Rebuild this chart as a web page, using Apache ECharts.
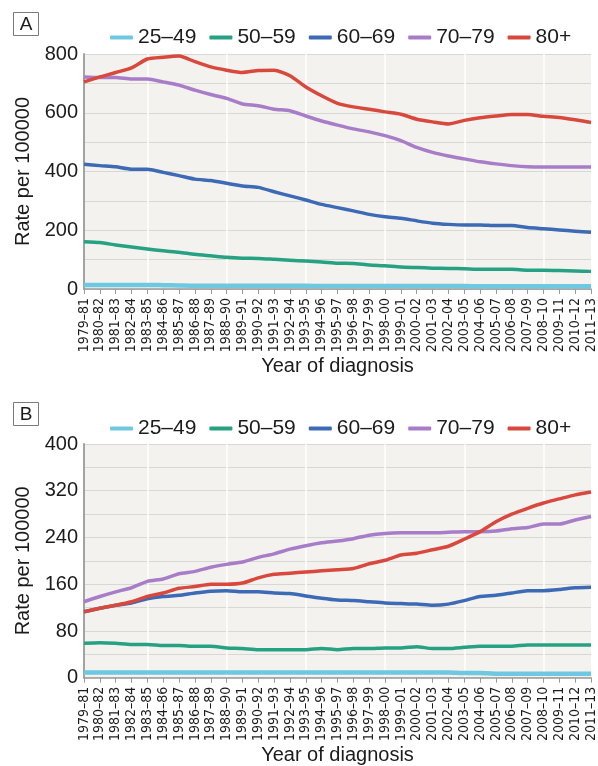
<!DOCTYPE html>
<html>
<head>
<meta charset="utf-8">
<script src="https://cdn.jsdelivr.net/npm/echarts@6/dist/echarts.min.js"></script>
<style>
  html, body { margin: 0; padding: 0; background: #fff; }
  #chart { width: 598px; height: 766px; }
</style>
</head>
<body>
<div id="chart"></div>
<script>
const periods = [
  "1979–81", "1980–82", "1981–83", "1982–84", "1983–85", "1984–86", "1985–87",
  "1986–88", "1987–89", "1988–90", "1989–91", "1990–92", "1991–93", "1992–94",
  "1993–95", "1994–96", "1995–97", "1996–98", "1997–99", "1998–00", "1999–01",
  "2000–02", "2001–03", "2002–04", "2003–05", "2004–06", "2005–07", "2006–08",
  "2007–09", "2008–10", "2009–11", "2010–12", "2011–13"
]
const ageGroups = ["25–49", "50–59", "60–69", "70–79", "80+"]
const ageColors = ["#6ec8df", "#27a184", "#3d6ab5", "#a87dc8", "#d8483d"]

// panel A
const a25to49 = [14, 14, 14, 14, 14, 13, 12, 11, 11, 11, 11, 11, 11, 11, 11, 10, 10, 10, 10, 10, 10, 10, 10, 10, 10, 9, 9, 9, 9, 9, 9, 9, 9]
const a50to59 = [161, 158, 150, 143, 136, 130, 125, 118, 113, 108, 105, 104, 101, 98, 95, 92, 88, 87, 82, 79, 75, 73, 71, 70, 69, 67, 67, 67, 64, 64, 63, 61, 60]
const a60to69 = [425, 420, 416, 408, 408, 397, 386, 374, 369, 360, 351, 346, 331, 317, 303, 288, 277, 266, 254, 246, 241, 232, 224, 220, 218, 218, 216, 216, 209, 205, 201, 197, 193]
const a70to79 = [722, 720, 720, 715, 715, 705, 694, 677, 662, 649, 630, 624, 612, 607, 589, 572, 558, 545, 535, 522, 505, 482, 465, 453, 443, 433, 426, 420, 416, 415, 415, 415, 415]
const a80plus = [705, 722, 737, 753, 783, 789, 793, 774, 756, 745, 737, 744, 745, 726, 688, 658, 632, 620, 612, 603, 595, 578, 569, 562, 574, 583, 589, 594, 594, 588, 584, 576, 567]

// panel B
const b25to49 = [9, 9, 9, 9, 9, 9, 9, 9, 9, 9, 9, 9, 9, 9, 9, 9, 9, 9, 9, 9, 9, 9, 9, 9, 8, 8, 7, 7, 7, 7, 7, 7, 7]
const b50to59 = [59, 60, 59, 57, 57, 55, 55, 54, 54, 51, 50, 48, 48, 48, 48, 50, 48, 50, 50, 51, 51, 53, 50, 50, 52, 54, 54, 54, 56, 56, 56, 56, 56]
const b60to69 = [113, 119, 124, 128, 135, 139, 141, 145, 148, 149, 147, 147, 145, 144, 140, 136, 133, 132, 130, 128, 127, 126, 124, 126, 132, 139, 141, 145, 149, 149, 151, 154, 155]
const b70to79 = [130, 139, 147, 154, 165, 169, 178, 182, 189, 194, 198, 206, 212, 220, 226, 231, 234, 238, 244, 247, 248, 248, 248, 249, 250, 250, 251, 255, 257, 263, 263, 270, 276]
const b80plus = [113, 119, 124, 130, 139, 145, 153, 156, 160, 160, 162, 171, 177, 179, 181, 183, 185, 187, 195, 201, 210, 213, 219, 225, 237, 250, 267, 280, 290, 299, 306, 313, 318]

const panelA = [a25to49, a50to59, a60to69, a70to79, a80plus]
const panelB = [b25to49, b50to59, b60to69, b70to79, b80plus]

const font = "'Liberation Sans', Arial, sans-serif"
const textColor = "#1b1b1b"

const chart = echarts.init(document.getElementById("chart"), null, { renderer: "canvas" })

function xAxisFor(gridIndex) {
  return {
    type: "category",
    gridIndex,
    data: periods,
    boundaryGap: false,
    name: "Year of diagnosis",
    nameLocation: "middle",
    nameGap: 63,
    nameTextStyle: { fontFamily: font, fontSize: 20, color: textColor },
    axisLine: { lineStyle: { color: "#9a9a9a", width: 1.5 } },
    axisTick: { show: true, interval: 0, length: 5, lineStyle: { color: "#9a9a9a" } },
    axisLabel: {
      interval: 0,
      rotate: 90,
      margin: 9,
      fontFamily: "'Liberation Sans Narrow', 'DejaVu Sans Condensed', Arial, sans-serif",
      fontSize: 14,
      color: textColor
    },
    splitLine: {
      show: true,
      interval: (idx) => idx % 5 === 4,
      lineStyle: { color: "#ffffff", width: 1.5 }
    }
  }
}

function yAxisFor(gridIndex, max, step) {
  return {
    type: "value",
    gridIndex,
    min: 0,
    max,
    interval: step,
    name: "Rate per 100000",
    nameLocation: "middle",
    nameGap: 51,
    nameTextStyle: { fontFamily: font, fontSize: 20, color: textColor },
    axisLine: { show: true, lineStyle: { color: "#a3a3a3", width: 2 } },
    axisTick: { show: false },
    axisLabel: {
      margin: 6,
      fontFamily: font,
      fontSize: 20,
      color: textColor,
      formatter: (v) => (v % (step * 2) === 0 ? String(v) : "")
    },
    splitLine: { lineStyle: { color: "#d7d7d3", width: 1.2 } }
  }
}

function legendFor(top) {
  return {
    top,
    left: 110,
    padding: 0,
    itemGap: 13,
    itemWidth: 23,
    itemHeight: 4,
    icon: "roundRect",
    data: ageGroups,
    textStyle: { fontFamily: font, fontSize: 21, color: textColor }
  }
}

function seriesFor(panel, gridIndex) {
  return panel.map((values, k) => ({
    name: ageGroups[k],
    type: "line",
    xAxisIndex: gridIndex,
    yAxisIndex: gridIndex,
    data: values,
    smooth: 0.2,
    symbol: "none",
    color: ageColors[k],
    lineStyle: { width: k === 0 ? 4.5 : 3.5, color: ageColors[k], join: "round" },
    emphasis: { disabled: true }
  }))
}

function panelTag(letter, top) {
  return {
    type: "group",
    left: 13,
    top,
    children: [
      { type: "rect", shape: { x: 0, y: 0, width: 25, height: 23 }, style: { fill: "#fff", stroke: "#7a7a7a", lineWidth: 1 } },
      { type: "text", x: 12.5, y: 12, style: { text: letter, fontFamily: font, fontSize: 19, fill: textColor, align: "center", verticalAlign: "middle" } }
    ]
  }
}

chart.setOption({
  animation: false,
  backgroundColor: "#ffffff",
  grid: [
    { left: 84, right: 7, top: 54, height: 235, show: true, backgroundColor: "#f3f2ee", borderWidth: 0 },
    { left: 84, right: 7, top: 444, height: 236, show: true, backgroundColor: "#f3f2ee", borderWidth: 0 }
  ],
  legend: [legendFor(27), legendFor(418)],
  xAxis: [xAxisFor(0), xAxisFor(1)],
  yAxis: [yAxisFor(0, 800, 100), yAxisFor(1, 400, 40)],
  series: [...seriesFor(panelA, 0), ...seriesFor(panelB, 1)],
  graphic: [panelTag("A", 12), panelTag("B", 402)]
})
</script>
</body>
</html>
